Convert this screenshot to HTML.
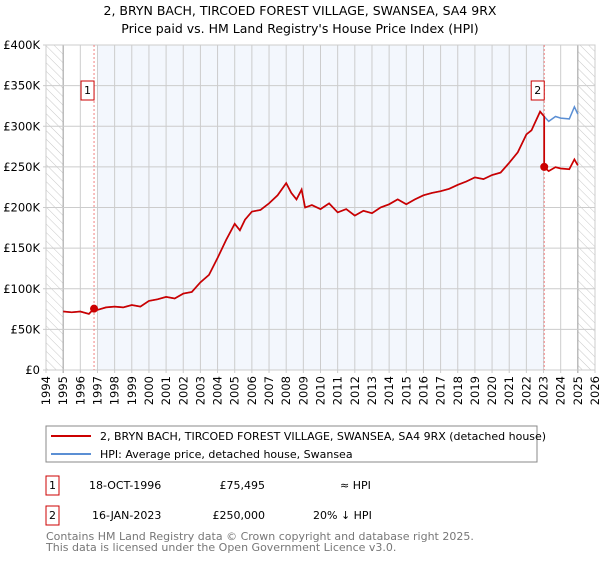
<!DOCTYPE html>
<html><head><meta charset="utf-8"><style>
body{margin:0;background:#fff;font-family:"Liberation Sans","DejaVu Sans",sans-serif;}
svg text{font-family:"DejaVu Sans","Liberation Sans",sans-serif;}
</style></head><body>
<svg id="chart" width="600" height="560" xmlns="http://www.w3.org/2000/svg">
<defs><pattern id="hatch" width="6" height="6" patternUnits="userSpaceOnUse" patternTransform="rotate(-45)"><line x1="0" y1="0" x2="0" y2="6" stroke="#c8c8c8" stroke-width="1"/></pattern></defs>
<text x="300" y="15" text-anchor="middle" font-size="12.5" fill="#000">2, BRYN BACH, TIRCOED FOREST VILLAGE, SWANSEA, SA4 9RX</text>
<text x="300" y="33" text-anchor="middle" font-size="12.5" fill="#000">Price paid vs. HM Land Registry's House Price Index (HPI)</text>
<g id="plot"></g>
<g>
<rect x="46" y="426" width="491" height="36" fill="#fff" stroke="#888"/>
<line x1="51" y1="436" x2="91" y2="436" stroke="#cc0000" stroke-width="2"/>
<text x="100" y="440" font-size="11">2, BRYN BACH, TIRCOED FOREST VILLAGE, SWANSEA, SA4 9RX (detached house)</text>
<line x1="51" y1="454" x2="91" y2="454" stroke="#5b8fd4" stroke-width="2"/>
<text x="100" y="458" font-size="11">HPI: Average price, detached house, Swansea</text>
</g>
<g font-size="11">
<rect x="46" y="476" width="13" height="19" fill="#fff" stroke="#cc0000"/><text x="52.5" y="489" text-anchor="middle">1</text>
<text x="89" y="489">18-OCT-1996</text><text x="265" y="489" text-anchor="end">£75,495</text><text x="340" y="489">≈ HPI</text>
<rect x="46" y="506" width="13" height="19" fill="#fff" stroke="#cc0000"/><text x="52.5" y="519" text-anchor="middle">2</text>
<text x="92" y="519">16-JAN-2023</text><text x="265" y="519" text-anchor="end">£250,000</text><text x="313" y="519">20% ↓ HPI</text>
</g>
<text x="46" y="540" font-size="11" fill="#777">Contains HM Land Registry data © Crown copyright and database right 2025.</text>
<text x="46" y="551" font-size="11" fill="#777">This data is licensed under the Open Government Licence v3.0.</text>
</svg>
<script>
const years=[1995,1995.5,1996,1996.5,1996.8,1997,1997.5,1998,1998.5,1999,1999.5,2000,2000.5,2001,2001.5,2002,2002.5,2003,2003.5,2004,2004.5,2005,2005.3,2005.6,2006,2006.5,2007,2007.5,2008,2008.3,2008.6,2008.9,2009.1,2009.5,2010,2010.5,2011,2011.5,2012,2012.5,2013,2013.5,2014,2014.5,2015,2015.5,2016,2016.5,2017,2017.5,2018,2018.5,2019,2019.5,2020,2020.5,2021,2021.5,2022,2022.3,2022.8,2023.04,2023.3,2023.7,2024,2024.5,2024.8,2025];
const hpiValues=[72,71,72,69,75.5,74,77,78,77,80,78,85,87,90,88,94,96,108,117,138,160,180,172,185,195,197,205,215,230,218,210,222,200,203,198,205,194,198,190,196,193,200,204,210,204,210,215,218,220,223,228,232,237,235,240,243,255,268,290,295,318,312,306,312,310,309,324,315];
const sales=[{year:1996.8,value:75.495,label:"1"},{year:2023.04,value:250,label:"2"}];
const saleRatio=[1.0,0.8];
const yTicks=[0,50,100,150,200,250,300,350,400];
const yTickLabels=["£0","£50K","£100K","£150K","£200K","£250K","£300K","£350K","£400K"];
const xTicks=[];for(let y=1994;y<=2026;y++)xTicks.push(y);
const X0=46,X1=595,Y0=370,Y1=45;
const xs=y=>X0+(y-1994)/(2026-1994)*(X1-X0);
const ys=v=>Y0-v/400*(Y0-Y1);
const NS="http://www.w3.org/2000/svg";
const g=document.getElementById('plot');
function mk(t,a,p){const e=document.createElementNS(NS,t);for(const k in a)e.setAttribute(k,a[k]);(p||g).appendChild(e);return e;}
let e;
e=mk('rect',{x:xs(1996.97),y:Y1,width:xs(2023.06)-xs(1996.97),height:Y0-Y1,fill:'#f3f7fd'});


e=mk('rect',{x:X0,y:Y1,width:xs(1995)-X0,height:Y0-Y1,fill:'url(#hatch)'});


e=mk('rect',{x:xs(2025),y:Y1,width:X1-xs(2025),height:Y0-Y1,fill:'url(#hatch)'});


xTicks.forEach(y=>{
 e=mk('line',{x1:xs(y),y1:Y1,x2:xs(y),y2:Y0+3,stroke:(y==1995||y==2025)?'#999':'#ccc','stroke-width':1});
 
 
 const tx=xs(y)+4,ty=Y0+6;
 e=mk('text',{x:tx,y:ty,transform:`rotate(-90 ${tx} ${ty})`,'text-anchor':'end','font-size':11.5});
 e.textContent=y;
 
 
});
yTicks.forEach((v,i)=>{
 e=mk('line',{x1:X0-3,y1:ys(v),x2:X1,y2:ys(v),stroke:'#ccc','stroke-width':1});
 
 
 e=mk('text',{x:40,y:ys(v)+4,'text-anchor':'end','font-size':11.5});
 e.textContent=yTickLabels[i];
 
 
});
e=mk('rect',{x:X0,y:Y1,width:X1-X0,height:Y0-Y1,fill:'none',stroke:'#ccc'});


sales.forEach(s=>{
 e=mk('line',{x1:xs(s.year),y1:Y1,x2:xs(s.year),y2:Y0,stroke:'#f08080','stroke-width':1,'stroke-dasharray':'2,2'});
 
 
});
const hp=years.map((y,i)=>`${i?'L':'M'}${xs(y).toFixed(1)},${ys(hpiValues[i]).toFixed(1)}`).join('');
e=mk('path',{d:hp,fill:'none',stroke:'#5b8fd4','stroke-width':1.5});


let rp='';years.forEach((y,i)=>{
 if(y<sales[1].year){rp+=`${rp?'L':'M'}${xs(y).toFixed(1)},${ys(hpiValues[i]*saleRatio[0]).toFixed(1)}`;}
 else{ if(y===sales[1].year) rp+=`L${xs(y).toFixed(1)},${ys(hpiValues[i]).toFixed(1)}`; rp+=`L${xs(y).toFixed(1)},${ys(hpiValues[i]*saleRatio[1]).toFixed(1)}`;}
});
e=mk('path',{d:rp,fill:'none',stroke:'#cc0000','stroke-width':1.7});


sales.forEach(s=>{
 e=mk('circle',{cx:xs(s.year),cy:ys(s.value),r:4,fill:'#cc0000'});
 
 
 const bx=xs(s.year)-13;
 e=mk('rect',{x:bx,y:81,width:13,height:19,fill:'#fff',stroke:'#cc0000'});
 
 
 e=mk('text',{x:bx+6.5,y:94,'text-anchor':'middle','font-size':11});
 e.textContent=s.label;
 
 
});
</script>
</body></html>
